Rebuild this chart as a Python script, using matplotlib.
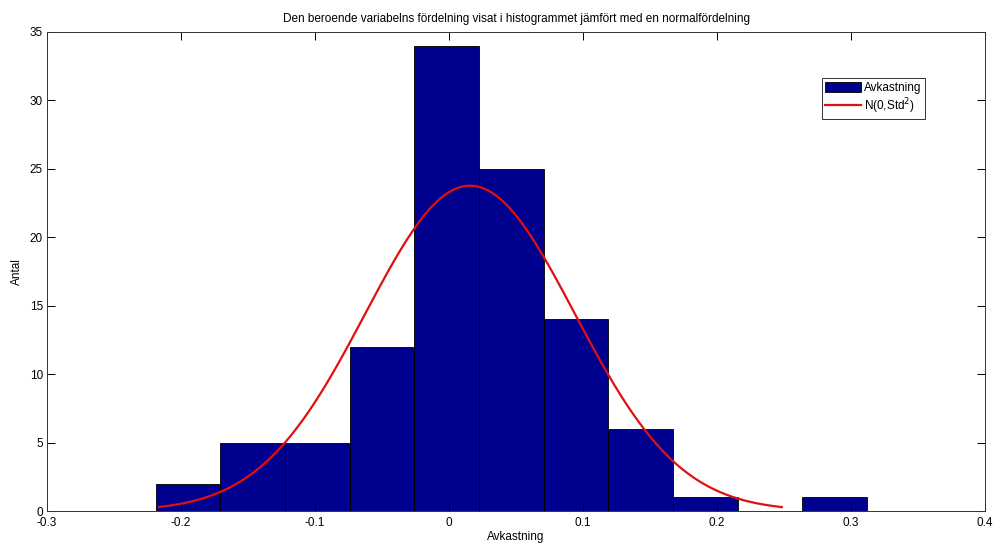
import numpy as np
import matplotlib
matplotlib.use("Agg")
import matplotlib.pyplot as plt

# histogram: bin edges and counts
edges = [-0.2189, -0.1707, -0.1224, -0.0742, -0.0259, 0.0223,
         0.0706, 0.1188, 0.1670, 0.2153, 0.2635, 0.3117]
counts = [2, 5, 5, 12, 34, 25, 14, 6, 1, 0, 1]

# fitted normal curve, scaled to the histogram
mu = 0.0157
sigma = 0.0782
peak = 23.77
x_start, x_end = -0.2162, 0.2483

plt.rcParams['font.family'] = ['Liberation Sans', 'DejaVu Sans']

fig = plt.figure(figsize=(9.95, 5.46), dpi=100)
ax = fig.add_axes([0.0472, 0.0641, 0.9428, 0.8773])

widths = np.diff(edges)
bars = ax.bar(edges[:-1], counts, width=widths, align='edge', color='#00008F',
              edgecolor='black', linewidth=0.6, label='Avkastning')

xs = np.linspace(x_start, x_end, 200)
line, = ax.plot(xs, peak * np.exp(-(xs - mu) ** 2 / (2 * sigma ** 2)),
                color='#E01010', linewidth=1.6, label='N(0,Std$^2$)')

ax.set_xlim(-0.3, 0.4)
ax.set_ylim(0, 35)
ax.set_xticks(np.arange(-0.3, 0.41, 0.1))
ax.set_xticklabels(['-0.3', '-0.2', '-0.1', '0', '0.1', '0.2', '0.3', '0.4'])
ax.set_yticks(range(0, 36, 5))
ax.tick_params(direction='in', top=True, right=True, labelsize=8.5,
               length=6, width=0.7)
ax.tick_params(axis='x', pad=4)
ax.tick_params(axis='y', pad=3)
for s in ax.spines.values():
    s.set_linewidth(0.7)
    s.set_color('#333333')

ax.set_title('Den beroende variabelns fördelning visat i histogrammet jämfört med en normalfördelning',
             fontsize=8.5, pad=7)
ax.set_xlabel('Avkastning', fontsize=8.5, labelpad=2)
ax.set_ylabel('Antal', fontsize=8.5, labelpad=5)

leg = ax.legend([bars, line], ['Avkastning', 'N(0,Std$^2$)'],
                loc='upper left', bbox_to_anchor=(0.826, 0.904), fontsize=8.5,
                frameon=True, fancybox=False, edgecolor='black',
                handlelength=3.0, handleheight=1.0, handletextpad=0.3,
                borderpad=0.3, labelspacing=0.2, borderaxespad=0)
leg.get_frame().set_linewidth(0.7)

fig.savefig('out.png', dpi=100)
